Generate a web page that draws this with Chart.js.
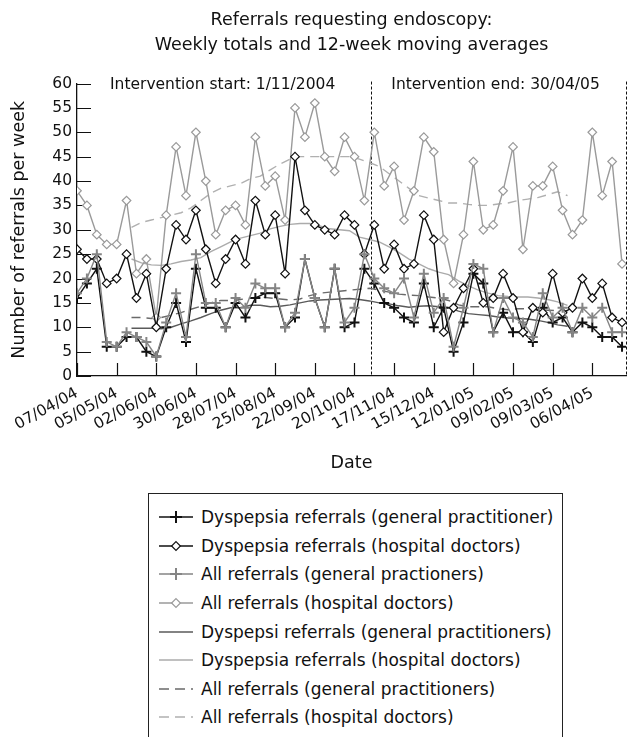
<!DOCTYPE html>
<html>
<head>
<meta charset="utf-8">
<script src="https://cdn.jsdelivr.net/npm/chart.js@4.4.1/dist/chart.umd.min.js"></script>
<style>
  html, body { margin: 0; padding: 0; background: #fff; width: 633px; height: 737px; overflow: hidden; }
  #wrap { position: relative; width: 633px; height: 737px; }
  #chart { position: absolute; left: 0; top: 0; }
  #legend {
    position: absolute; left: 148px; top: 493px; width: 415px; height: 270px;
    border: 1.3px solid #222; box-sizing: border-box; padding: 9px 0 0 10px;
    font-family: "DejaVu Sans", sans-serif; font-size: 17px; color: #111;
  }
  .row { display: flex; align-items: center; height: 28.6px; white-space: nowrap; }
  .row svg { flex: none; margin-right: 8px; }
</style>
</head>
<body>
<div id="wrap">
  <canvas id="chart" width="633" height="490"></canvas>
  <div id="legend"></div>
</div>
<script>
// tick labels every 4 weeks, starting 07/04/04
const tickLabels = ['07/04/04', '05/05/04', '02/06/04', '30/06/04', '28/07/04', '25/08/04', '22/09/04',
    '20/10/04', '17/11/04', '15/12/04', '12/01/05', '09/02/05', '09/03/05', '06/04/05'];

// weekly totals (week 0 = 07/04/04)
const dysGP = [16, 19, 22, 6, 6, 8, 8, 5, 4, 10, 15, 7, 22, 14, 14, 10, 15, 12, 16, 17,
    17, 10, 12, 24, 16, 10, 22, 10, 11, 22, 19, 15, 14, 12, 11, 19, 10, 14, 5, 11,
    21, 19, 9, 13, 9, 9, 7, 14, 11, 12, 9, 11, 10, 8, 8, 6];
const dysHosp = [26, 24, 24, 19, 20, 25, 16, 21, 10, 22, 31, 28, 34, 26, 19, 24, 28, 23, 36, 29,
    33, 21, 45, 34, 31, 30, 29, 33, 31, 25, 31, 22, 27, 22, 23, 33, 28, 9, 14, 18,
    22, 15, 16, 21, 16, 9, 14, 13, 21, 13, 14, 20, 16, 19, 12, 11];
const allGP = [17, 20, 25, 7, 6, 9, 8, 7, 4, 11, 17, 8, 25, 15, 15, 10, 16, 14, 19, 18,
    18, 10, 13, 24, 16, 10, 22, 11, 14, 25, 20, 18, 17, 20, 12, 21, 13, 16, 6, 14,
    23, 22, 9, 16, 12, 11, 8, 17, 12, 14, 9, 14, 12, 14, 9, 9];
const allHosp = [38, 35, 29, 27, 27, 36, 21, 24, 12, 33, 47, 37, 50, 40, 29, 34, 35, 31, 49, 39,
    41, 32, 55, 49, 56, 45, 42, 49, 45, 36, 50, 39, 43, 32, 38, 49, 46, 28, 19, 29,
    44, 30, 31, 38, 47, 26, 39, 39, 43, 34, 29, 32, 50, 37, 44, 23];

// 12-week moving averages, first value sits at week 5.5
const maStart = 5.5;
const maDysGP = [9.8, 9.8, 9.8, 9.7, 10, 10.7, 11.3, 12, 12.8, 13.5, 14, 14, 14.5, 14.5, 14.2,
    14.3, 14.6, 15, 15.4, 15.6, 15.7, 15.8, 15.9, 15.7, 15.4, 15, 14.8, 14.4, 14.1, 14.3,
    14.4, 14.2, 14, 13.3, 12.8, 12.6, 12.4, 12.1, 11.9, 11.8, 11.7, 11.4, 11, 10.5, 10.2];
const maDysHosp = [24, 23.2, 22.8, 22.7, 23, 23.5, 23.8, 24.3, 25.5, 26.5, 27.5, 28.3, 28.8, 29.3, 30.2,
    30.7, 31.1, 31.3, 31.3, 30.8, 30.2, 30, 29.8, 28.5, 28, 27.5, 26.5, 25.3, 24, 23,
    22, 21.3, 20.8, 19.5, 18.5, 17.6, 17, 16.5, 16.3, 16.2, 16.2, 16, 15.7, 15.2, 14.5];
const maAllGP = [12, 12, 11.8, 12, 12.5, 13, 13.7, 14.3, 15, 15.5, 15.5, 15.7, 16, 16.2, 16,
    15.8, 15.6, 15.8, 16.5, 17, 17.2, 17.4, 17.6, 17.8, 18, 17.6, 17.2, 16.8, 16.6, 16.5,
    16.2, 16, 15.5, 14.6, 14.2, 14.2, 14.2, 13.8, 13.6, 13.8, 13.8, 13.6, 13.5, 13.4, 13.3];
const maAllHosp = [30.5, 31.5, 32, 32.5, 33, 33.5, 34.5, 36, 37.5, 38.5, 39, 39.5, 40.5, 41, 42.3,
    43.5, 44.5, 45, 45, 45, 45, 45, 45, 44.5, 43.8, 43, 41.5, 40, 38.5, 37,
    36.5, 36, 35.5, 35.5, 35.2, 35, 35, 35.3, 35.5, 36, 36.3, 36.6, 37.2, 37.8, 37];

// intervention dates as weeks after 07/04/04
const interventionStart = 29.7;  // 1/11/2004
const interventionEnd = 55.4;    // 30/04/05

const FONT = '"DejaVu Sans", sans-serif';
Chart.defaults.font.family = FONT;
Chart.defaults.color = '#111';

const weekly = arr => arr.map((v, i) => ({ x: i, y: v }));
const averaged = arr => arr.map((v, i) => ({ x: i + maStart, y: v }));

function marked(label, values, color, style, order) {
    const cross = style === 'cross';
    return {
        label: label,
        data: weekly(values),
        borderColor: color,
        borderWidth: 1.4,
        pointStyle: style,
        pointRadius: cross ? 5 : 4.3,
        pointBorderWidth: cross ? 2 : 1.2,
        pointBackgroundColor: '#fff',
        order: order,
    };
}

function smooth(label, values, color, dashed, order) {
    return {
        label: label,
        data: averaged(values),
        borderColor: color,
        borderWidth: 1.4,
        borderDash: dashed ? [9, 6] : [],
        pointRadius: 0,
        order: order,
    };
}

// inward tick marks, intervention lines and their labels
const decorations = {
    id: 'decorations',
    beforeDatasetsDraw(chart) {
        const { ctx, chartArea: a, scales: { x, y } } = chart;
        ctx.save();
        ctx.strokeStyle = '#111';
        ctx.lineWidth = 1.2;
        ctx.beginPath();
        x.ticks.forEach(t => {
            const px = Math.round(x.getPixelForValue(t.value)) + 0.5;
            ctx.moveTo(px, a.bottom);
            ctx.lineTo(px, a.bottom - 13);
        });
        y.ticks.forEach(t => {
            const py = Math.round(y.getPixelForValue(t.value)) + 0.5;
            ctx.moveTo(a.left, py);
            ctx.lineTo(a.left + 14, py);
        });
        ctx.stroke();

        ctx.lineWidth = 1;
        ctx.setLineDash([3, 2]);
        ctx.beginPath();
        [interventionStart, interventionEnd].forEach(w => {
            const px = Math.round(x.getPixelForValue(w)) + 0.5;
            ctx.moveTo(px, a.top - 2);
            ctx.lineTo(px, a.bottom);
        });
        ctx.stroke();

        ctx.fillStyle = '#111';
        ctx.font = '15.5px ' + FONT;
        ctx.textBaseline = 'middle';
        const ty = y.getPixelForValue(60) + 1;
        ctx.fillText('Intervention start: 1/11/2004', a.left + 33, ty);
        ctx.fillText('Intervention end: 30/04/05', x.getPixelForValue(interventionStart) + 20, ty);
        ctx.restore();
    }
};

new Chart(document.getElementById('chart'), {
    type: 'line',
    data: {
        datasets: [
            marked('Dyspepsia referrals (general practitioner)', dysGP, '#111', 'cross', 4),
            marked('Dyspepsia referrals (hospital doctors)', dysHosp, '#111', 'rectRot', 3),
            marked('All referrals (general practioners)', allGP, '#858585', 'cross', 2),
            marked('All referrals (hospital doctors)', allHosp, '#9a9a9a', 'rectRot', 5),
            smooth('Dyspepsi referrals (general practitioners)', maDysGP, '#5a5a5a', false, 7),
            smooth('Dyspepsia referrals (hospital doctors)', maDysHosp, '#ababab', false, 9),
            smooth('All referrals (general practitioners)', maAllGP, '#6a6a6a', true, 8),
            smooth('All referrals (hospital doctors)', maAllHosp, '#b0b0b0', true, 10),
        ]
    },
    options: {
        responsive: false,
        animation: false,
        devicePixelRatio: 1,
        layout: { padding: { left: 0, right: 4, top: 0, bottom: 0 } },
        scales: {
            x: {
                type: 'linear',
                min: 0,
                max: interventionEnd,
                afterBuildTicks: scale => {
                    scale.ticks = tickLabels.map((_, i) => ({ value: i * 4 }));
                },
                afterFit: scale => { scale.height = 114; },
                ticks: {
                    autoSkip: false,
                    minRotation: 29,
                    maxRotation: 29,
                    padding: 8,
                    font: { size: 15.5 },
                    callback: (value, index) => tickLabels[index],
                },
                grid: { display: true, drawOnChartArea: false, drawTicks: false },
                border: { display: true, color: '#111', width: 1.3 },
                title: {
                    display: true,
                    text: 'Date',
                    font: { size: 17.5 },
                    padding: { top: 0, bottom: 16 },
                },
            },
            y: {
                min: 0,
                max: 60,
                afterFit: scale => { scale.width = 77; },
                ticks: { stepSize: 5, autoSkip: false, padding: 5, font: { size: 15.5 } },
                grid: { display: true, drawOnChartArea: false, drawTicks: false },
                border: { display: true, color: '#111', width: 1.3 },
                title: {
                    display: true,
                    text: 'Number of referrals per week',
                    font: { size: 17.5 },
                    padding: { top: 9, bottom: 0 },
                },
            },
        },
        plugins: {
            legend: { display: false },
            tooltip: { enabled: false },
            title: {
                display: true,
                fullSize: false,
                text: ['Referrals requesting endoscopy:', 'Weekly totals and 12-week moving averages'],
                font: { size: 17.5, weight: 'normal', lineHeight: 1.43 },
                color: '#111',
                padding: { top: 7.5, bottom: 26 },
            },
        },
    },
    plugins: [decorations],
});

// legend: sample drawn as small svg, text as html
const legendRows = [
    { text: 'Dyspepsia referrals (general practitioner)', color: '#111', mark: 'cross' },
    { text: 'Dyspepsia referrals (hospital doctors)', color: '#111', mark: 'diamond' },
    { text: 'All referrals (general practioners)', color: '#858585', mark: 'cross' },
    { text: 'All referrals (hospital doctors)', color: '#9a9a9a', mark: 'diamond' },
    { text: 'Dyspepsi referrals (general practitioners)', color: '#5a5a5a' },
    { text: 'Dyspepsia referrals (hospital doctors)', color: '#ababab' },
    { text: 'All referrals (general practitioners)', color: '#6a6a6a', dashed: true },
    { text: 'All referrals (hospital doctors)', color: '#b0b0b0', dashed: true },
];

const legend = document.getElementById('legend');
legendRows.forEach(r => {
    let mark = '';
    if (r.mark === 'cross') {
        mark = `<path d="M17 3 V15 M11 9 H23" stroke="${r.color}" stroke-width="2"/>`;
    } else if (r.mark === 'diamond') {
        mark = `<path d="M17 4.6 L21.4 9 L17 13.4 L12.6 9 Z" fill="#fff" stroke="${r.color}" stroke-width="1.2"/>`;
    }
    const dash = r.dashed ? 'stroke-dasharray="10,6"' : '';
    const row = document.createElement('div');
    row.className = 'row';
    row.innerHTML = `<svg width="34" height="18" viewBox="0 0 34 18">
        <line x1="0" y1="9" x2="34" y2="9" stroke="${r.color}" stroke-width="1.5" ${dash}/>${mark}</svg>
        <span>${r.text}</span>`;
    legend.appendChild(row);
});
</script>
</body>
</html>
